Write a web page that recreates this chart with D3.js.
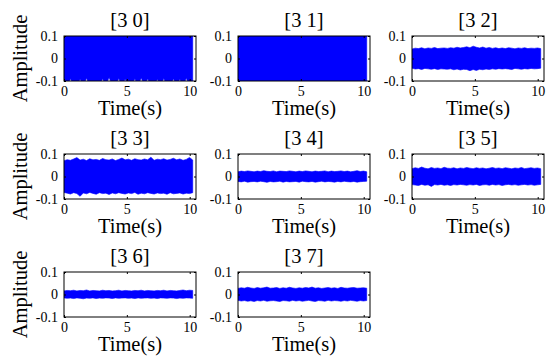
<!DOCTYPE html>
<html>
<head>
<meta charset="utf-8">
<script src="https://cdn.jsdelivr.net/npm/d3@7"></script>
<style>
  body { margin: 0; background: #fff; }
  svg { display: block; }
</style>
</head>
<body>
<div id="chart"></div>
<script>
// panel titles, in subplot order
const panelTitles = ['[3 0]', '[3 1]', '[3 2]', '[3 3]', '[3 4]', '[3 5]', '[3 6]', '[3 7]'];

const xTicks = [0, 5, 10];
const xTickLabels = ['0', '5', '10'];
const yTicks = [-0.1, 0, 0.1];
const yTickLabels = ['-0.1', '0', '0.1'];
const signalEnd = 10.24; // seconds

// upper / lower envelope of each signal (values past +-0.1 are clipped)
const up30 = [0.12, 0.12, 0.12, 0.12, 0.12];
const lo30 = [-0.12, -0.12, -0.09, -0.12, -0.12, -0.092, -0.12, -0.088, -0.12, -0.12, -0.12, -0.12, -0.09, -0.12, -0.084, -0.12, -0.12, -0.089, -0.12, -0.091, -0.12, -0.12, -0.09, -0.12, -0.087, -0.12, -0.09, -0.12, -0.12, -0.092, -0.12, -0.089, -0.12, -0.12, -0.09, -0.12, -0.092, -0.12, -0.088, -0.12, -0.12];

const up31 = [0.12, 0.12, 0.12, 0.12, 0.12];
const lo31 = [-0.12, -0.12, -0.12, -0.12, -0.12];

const up32 = [0.042, 0.046, 0.044, 0.048, 0.043, 0.047, 0.045, 0.049, 0.044, 0.046, 0.047, 0.045, 0.048, 0.046, 0.050, 0.047, 0.049, 0.052, 0.048, 0.055, 0.050, 0.047, 0.051, 0.046, 0.049, 0.045, 0.048, 0.044, 0.047, 0.044, 0.048, 0.046, 0.043, 0.047, 0.045, 0.048, 0.044, 0.046, 0.045, 0.047, 0.044];
const lo32 = [-0.043, -0.047, -0.045, -0.049, -0.044, -0.046, -0.048, -0.045, -0.049, -0.046, -0.047, -0.048, -0.046, -0.050, -0.047, -0.051, -0.048, -0.049, -0.054, -0.049, -0.053, -0.048, -0.050, -0.047, -0.049, -0.046, -0.048, -0.045, -0.047, -0.045, -0.047, -0.049, -0.044, -0.046, -0.048, -0.045, -0.047, -0.044, -0.046, -0.045, -0.043];

const up33 = [0.070, 0.075, 0.072, 0.078, 0.084, 0.073, 0.077, 0.071, 0.079, 0.074, 0.076, 0.072, 0.080, 0.075, 0.073, 0.078, 0.071, 0.076, 0.082, 0.074, 0.077, 0.072, 0.079, 0.075, 0.073, 0.078, 0.074, 0.086, 0.072, 0.077, 0.075, 0.079, 0.073, 0.076, 0.081, 0.074, 0.078, 0.072, 0.076, 0.085, 0.073];
const lo33 = [-0.071, -0.074, -0.078, -0.072, -0.076, -0.088, -0.073, -0.077, -0.071, -0.075, -0.079, -0.072, -0.076, -0.074, -0.080, -0.073, -0.077, -0.072, -0.075, -0.078, -0.073, -0.076, -0.071, -0.079, -0.074, -0.077, -0.072, -0.075, -0.078, -0.073, -0.076, -0.074, -0.079, -0.072, -0.077, -0.075, -0.073, -0.078, -0.074, -0.076, -0.072];

const up34 = [0.021, 0.024, 0.022, 0.025, 0.023, 0.021, 0.024, 0.022, 0.026, 0.023, 0.022, 0.025, 0.021, 0.024, 0.023, 0.022, 0.025, 0.023, 0.021, 0.024, 0.022, 0.025, 0.023, 0.021, 0.024, 0.022, 0.023, 0.025, 0.021, 0.024, 0.022, 0.023, 0.025, 0.022, 0.024, 0.021, 0.023, 0.026, 0.022, 0.024, 0.021];
const lo34 = [-0.022, -0.024, -0.021, -0.025, -0.023, -0.022, -0.024, -0.021, -0.023, -0.026, -0.022, -0.024, -0.023, -0.021, -0.025, -0.022, -0.024, -0.023, -0.022, -0.025, -0.021, -0.023, -0.024, -0.022, -0.025, -0.023, -0.021, -0.024, -0.022, -0.023, -0.025, -0.022, -0.024, -0.021, -0.023, -0.024, -0.022, -0.025, -0.023, -0.022, -0.021];

const up35 = [0.035, 0.039, 0.036, 0.042, 0.037, 0.034, 0.040, 0.036, 0.038, 0.035, 0.041, 0.037, 0.036, 0.039, 0.034, 0.038, 0.036, 0.040, 0.037, 0.035, 0.039, 0.036, 0.038, 0.034, 0.037, 0.040, 0.036, 0.038, 0.035, 0.039, 0.037, 0.034, 0.038, 0.036, 0.040, 0.035, 0.037, 0.039, 0.036, 0.038, 0.035];
const lo35 = [-0.036, -0.038, -0.040, -0.035, -0.039, -0.037, -0.044, -0.036, -0.038, -0.035, -0.039, -0.037, -0.040, -0.036, -0.038, -0.035, -0.037, -0.039, -0.036, -0.038, -0.035, -0.040, -0.037, -0.036, -0.039, -0.035, -0.038, -0.036, -0.040, -0.037, -0.035, -0.038, -0.036, -0.039, -0.037, -0.035, -0.038, -0.036, -0.039, -0.037, -0.035];

const up36 = [0.016, 0.018, 0.017, 0.019, 0.016, 0.018, 0.017, 0.020, 0.016, 0.018, 0.017, 0.016, 0.019, 0.017, 0.018, 0.016, 0.017, 0.019, 0.016, 0.018, 0.017, 0.016, 0.018, 0.017, 0.019, 0.016, 0.018, 0.017, 0.016, 0.018, 0.017, 0.019, 0.016, 0.018, 0.017, 0.016, 0.018, 0.020, 0.017, 0.019, 0.018];
const lo36 = [-0.015, -0.017, -0.016, -0.018, -0.015, -0.017, -0.019, -0.016, -0.017, -0.015, -0.018, -0.016, -0.017, -0.015, -0.016, -0.018, -0.015, -0.017, -0.016, -0.015, -0.017, -0.016, -0.018, -0.015, -0.017, -0.016, -0.015, -0.017, -0.016, -0.018, -0.015, -0.016, -0.017, -0.015, -0.016, -0.018, -0.016, -0.017, -0.015, -0.016, -0.017];

const up37 = [0.027, 0.030, 0.028, 0.032, 0.029, 0.027, 0.031, 0.028, 0.030, 0.033, 0.028, 0.029, 0.031, 0.027, 0.030, 0.028, 0.032, 0.029, 0.027, 0.030, 0.028, 0.031, 0.029, 0.033, 0.028, 0.030, 0.027, 0.029, 0.031, 0.028, 0.030, 0.027, 0.032, 0.029, 0.028, 0.030, 0.031, 0.028, 0.029, 0.030, 0.028];
const lo37 = [-0.026, -0.029, -0.027, -0.030, -0.028, -0.031, -0.027, -0.029, -0.026, -0.030, -0.028, -0.027, -0.029, -0.031, -0.027, -0.028, -0.030, -0.026, -0.029, -0.027, -0.030, -0.028, -0.026, -0.029, -0.031, -0.027, -0.028, -0.030, -0.026, -0.029, -0.027, -0.028, -0.030, -0.027, -0.029, -0.026, -0.028, -0.030, -0.027, -0.029, -0.027];

const uppers = [up30, up31, up32, up33, up34, up35, up36, up37];
const lowers = [lo30, lo31, lo32, lo33, lo34, lo35, lo36, lo37];

// layout (subplot 3x3 grid)
const W = 547, H = 356;
const colLeft = [64, 238, 412];
const rowTop = [36, 154, 272];
const pw = 132, ph = 45;
const SERIF = '"Liberation Serif", "Times New Roman", Times, serif';

const svg = d3.select('#chart').append('svg').attr('width', W).attr('height', H);

const x = d3.scaleLinear().domain([0, 10.5]).range([0, pw]);
const y = d3.scaleLinear().domain([-0.1, 0.1]).range([ph, 0]);

panelTitles.forEach((title, i) => {
  const col = i % 3, row = Math.floor(i / 3);
  const g = svg.append('g').attr('transform', `translate(${colLeft[col]},${rowTop[row]})`);

  g.append('clipPath').attr('id', `clip${i}`)
    .append('rect').attr('width', pw).attr('height', ph);

  // envelope band
  const up = uppers[i], lo = lowers[i];
  const band = up.map((u, k) => ({ u, t: k * signalEnd / (up.length - 1) }));
  const bandLo = lo.map((l, k) => ({ l, t: k * signalEnd / (lo.length - 1) }));
  const upLine = d3.line().x(d => x(d.t)).y(d => y(d.u));
  const loLine = d3.line().x(d => x(d.t)).y(d => y(d.l));
  // upper edge left->right, lower edge right->left
  const path = upLine(band) + 'L' + loLine(bandLo.slice().reverse()).slice(1) + 'Z';
  g.append('path')
    .attr('clip-path', `url(#clip${i})`)
    .attr('d', path)
    .attr('fill', '#0000ff')
    .attr('stroke', '#0000ff')
    .attr('stroke-width', 0.6);

  // axes, ticks pointing inward like matlab
  const fx = (d) => xTickLabels[xTicks.indexOf(d)];
  const fy = (d) => yTickLabels[yTicks.indexOf(d)];
  const axB = g.append('g').attr('transform', `translate(0,${ph})`)
    .call(d3.axisBottom(x).tickValues(xTicks).tickFormat(fx).tickSizeInner(-2).tickSizeOuter(0).tickPadding(5));
  const axL = g.append('g')
    .call(d3.axisLeft(y).tickValues(yTicks).tickFormat(fy).tickSizeInner(-2).tickSizeOuter(0).tickPadding(6));
  [axB, axL].forEach(a => a.attr('font-family', SERIF).attr('font-size', 14));
  g.append('g')
    .call(d3.axisTop(x).tickValues(xTicks).tickFormat('').tickSizeInner(-2).tickSizeOuter(0));
  g.append('g').attr('transform', `translate(${pw},0)`)
    .call(d3.axisRight(y).tickValues(yTicks).tickFormat('').tickSizeInner(-2).tickSizeOuter(0));
  g.selectAll('.domain').remove();
  g.selectAll('.tick line').attr('stroke', '#000');
  g.selectAll('.tick text').attr('fill', '#000');

  g.append('rect').attr('width', pw).attr('height', ph)
    .attr('fill', 'none').attr('stroke', '#000').attr('stroke-width', 1);

  const lbl = (sel) => sel.attr('font-family', SERIF).attr('font-size', 20.5)
    .attr('fill', '#000').attr('text-anchor', 'middle');
  g.append('text').call(lbl).attr('x', pw / 2).attr('y', -9).text(title);
  g.append('text').call(lbl).attr('x', pw / 2).attr('y', ph + 34).text('Time(s)');
  if (col === 0) {
    g.append('text').call(lbl)
      .attr('transform', `translate(${27 - colLeft[0]},${ph / 2}) rotate(-90)`)
      .text('Amplitude');
  }
});
</script>
</body>
</html>
